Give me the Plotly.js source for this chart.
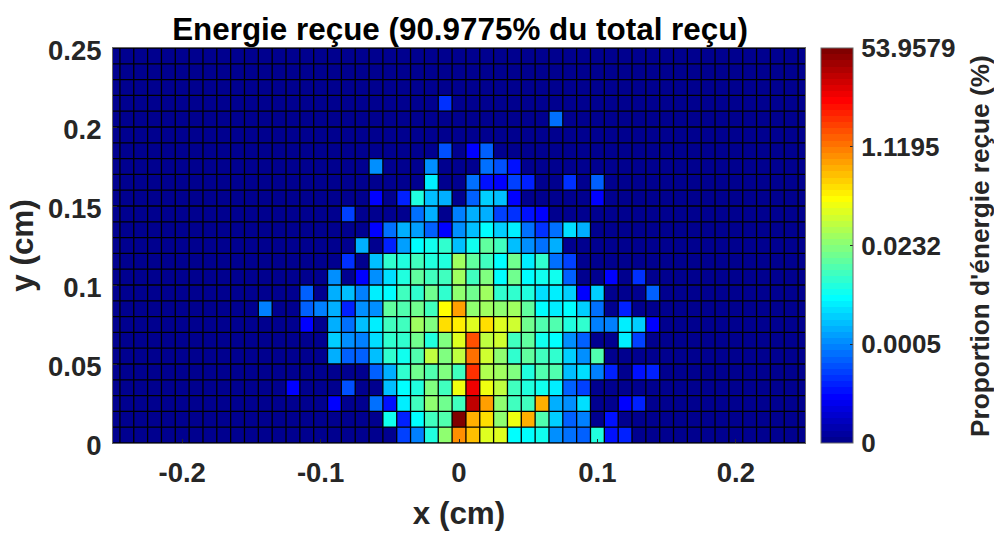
<!DOCTYPE html>
<html>
<head>
<meta charset="utf-8">
<script src="https://cdn.plot.ly/plotly-3.0.1.min.js"></script>
<style>html,body{margin:0;padding:0;background:#fff;overflow:hidden}#chart{width:994px;height:534px}</style>
</head>
<body>
<div id="chart"></div>
<script>
// Colour levels (0..63 of the 64-step jet map, log energy scale).
// Each row runs over x = -0.14 .. 0.14 cm; row index is y bin (0 = 0..0.01 cm).
var rows = [
 [0,0,0,0,0,0,0,0,0,0,11,15,25,32,46,43,37,37,23,23,24,16,14,13,25,8,9,0,0],
 [0,0,0,0,0,0,0,0,0,24,9,23,27,28,63,44,41,32,38,44,28,20,13,15,0,8,0,0,0],
 [0,0,0,0,0,7,0,0,14,8,22,27,32,30,27,59,45,32,27,27,44,18,16,21,0,0,7,9,0],
 [0,0,7,0,0,0,12,0,0,19,23,25,31,27,38,56,38,35,27,25,24,22,13,11,0,0,0,0,0],
 [0,0,0,0,0,0,0,0,13,18,26,30,28,31,27,52,34,33,31,25,28,28,19,21,15,9,0,8,9],
 [0,0,0,0,0,18,13,13,19,26,24,28,35,31,35,48,36,32,26,29,27,26,20,16,28,0,0,0,0],
 [0,0,0,0,0,20,16,15,21,26,26,30,25,31,37,50,35,36,27,29,24,23,16,13,0,0,22,11,0],
 [0,0,0,7,0,18,14,19,22,27,27,33,31,41,40,37,41,37,36,30,28,28,25,26,15,15,22,20,7],
 [15,0,0,13,15,18,9,16,16,29,28,30,27,39,45,32,33,32,33,29,23,22,23,20,14,0,9,0,0],
 [0,0,0,13,0,18,19,15,22,23,27,26,30,26,32,30,33,26,26,25,21,22,20,7,20,0,0,0,13],
 [0,0,0,0,0,16,0,7,16,21,25,29,27,27,33,27,31,23,30,23,24,24,13,0,0,7,0,10,0],
 [0,0,0,0,0,0,10,0,19,26,25,27,25,25,33,29,27,23,30,22,26,14,11,0,0,0,0,0,0],
 [0,0,0,0,0,0,0,18,0,9,17,23,24,26,19,24,29,27,19,16,14,18,0,0,0,0,0,0,0],
 [0,0,0,0,0,0,0,0,7,14,18,17,13,7,16,19,23,20,22,14,10,14,21,18,0,0,0,0,0],
 [0,0,0,0,0,0,11,0,0,0,0,14,18,0,15,18,18,11,10,8,7,0,0,0,0,0,0,0,0],
 [0,0,0,0,0,0,0,0,7,0,9,25,19,18,0,13,20,19,7,0,0,0,0,0,7,0,0,0,0],
 [0,0,0,0,0,0,0,0,0,0,0,0,22,0,0,14,8,7,11,9,0,0,10,0,13,0,0,0,0],
 [0,0,0,0,0,0,0,0,16,0,0,0,16,0,0,0,14,12,8,0,0,0,0,0,0,0,0,0,0],
 [0,0,0,0,0,0,0,0,0,0,0,0,0,12,0,7,13,0,0,0,0,0,0,0,0,0,0,0,0],
 [0,0,0,0,0,0,0,0,0,0,0,0,0,0,0,0,0,0,0,0,0,0,0,0,0,0,0,0,0],
 [0,0,0,0,0,0,0,0,0,0,0,0,0,0,0,0,0,0,0,0,0,14,0,0,0,0,0,0,0],
 [0,0,0,0,0,0,0,0,0,0,0,0,0,10,0,0,0,0,0,0,0,0,0,0,0,0,0,0,0],
 [0,0,0,0,0,0,0,0,0,0,0,0,0,0,0,0,0,0,0,0,0,0,0,0,0,0,0,0,0],
 [0,0,0,0,0,0,0,0,0,0,0,0,0,0,0,0,0,0,0,0,0,0,0,0,0,0,0,0,0],
 [0,0,0,0,0,0,0,0,0,0,0,0,0,0,0,0,0,0,0,0,0,0,0,0,0,0,0,0,0]
];
var xTickVals = [-0.2,-0.1,0,0.1,0.2];
var xTickText = ['-0.2','-0.1','0','0.1','0.2'];
var yTickVals = [0,0.05,0.1,0.15,0.2,0.25];
var yTickText = ['0','0.05','0.1','0.15','0.2','0.25'];
var cbTickVals = [0,16,32,48,64];
var cbTickText = ['\u200a0','\u200a0.0005','\u200a0.0232','\u200a1.1195','\u200a53.9579'];

var sidePad = [0,0,0,0,0,0,0,0,0,0,0];
var z = rows.map(function(r){
  return sidePad.concat(r, sidePad).map(function(v){ return v + 0.5; });
});

// cell borders
var gridX = [], gridY = [], i;
for (i = -25; i < 25; i++) {
  var ex = (i + 0.5) / 100;
  gridX.push(ex, ex, null); gridY.push(0, 0.25, null);
}
for (i = 0; i <= 25; i++) {
  var ey = i / 100;
  gridX.push(-0.25, 0.25, null); gridY.push(ey, ey, null);
}

// MATLAB jet, 64 discrete steps
function jet(i){
  var t = (i + 1) / 64 * 4;
  function c(v){ return Math.round(255 * Math.max(0, Math.min(1, v))); }
  return 'rgb(' + c(Math.min(t - 1.5, 4.5 - t)) + ',' + c(Math.min(t - 0.5, 3.5 - t)) + ',' + c(Math.min(t + 0.5, 2.5 - t)) + ')';
}
var colorscale = [];
for (i = 0; i < 64; i++) {
  colorscale.push([i / 64, jet(i)]);
  colorscale.push([(i + 1) / 64, jet(i)]);
}

var FONT = '"Liberation Sans", Arial, sans-serif';
var DARK = '#262626';

Plotly.newPlot('chart', [{
  type: 'heatmap',
  z: z,
  x0: -0.25, dx: 0.01,
  y0: 0.005, dy: 0.01,
  zmin: 0, zmax: 64,
  colorscale: colorscale,
  hoverinfo: 'skip',
  colorbar: {
    x: 1.0231, xanchor: 'left', xpad: 0,
    y: 0.5, yanchor: 'middle', ypad: 0,
    len: 1, lenmode: 'fraction',
    thickness: 32, thicknessmode: 'pixels',
    tickmode: 'array', tickvals: cbTickVals, ticktext: cbTickText,
    ticks: 'inside', ticklen: 3, tickcolor: DARK, tickwidth: 1,
    tickfont: {family: FONT, size: 26, color: DARK, weight: 'bold'},
    outlinecolor: '#666', outlinewidth: 1
  }
}, {
  type: 'scatter', mode: 'lines', x: gridX, y: gridY,
  line: {color: '#000', width: 1.3},
  hoverinfo: 'skip', showlegend: false
}], {
  width: 994, height: 534,
  showlegend: false,
  margin: {l: 113, r: 189, t: 48, b: 91, pad: 0},
  paper_bgcolor: '#fff',
  plot_bgcolor: '#000',
  title: {text: 'Energie reçue (90.9775% du total reçu)',
          font: {family: FONT, size: 31.4, color: '#000', weight: 'bold'},
          x: 460/994, xanchor: 'center', y: 0.945, yanchor: 'middle'},
  xaxis: {range: [-0.25, 0.25], tickmode: 'array', tickvals: xTickVals, ticktext: xTickText,
          ticks: 'inside', ticklen: 4, tickcolor: DARK, ticklabelstandoff: 5,
          tickfont: {family: FONT, size: 27.5, color: DARK, weight: 'bold'},
          showgrid: false, zeroline: false, showline: true, linecolor: '#666', linewidth: 1, mirror: true,
          title: {text: 'x (cm)', standoff: 15, font: {family: FONT, size: 31.4, color: DARK, weight: 'bold'}}},
  yaxis: {range: [0, 0.25], tickmode: 'array', tickvals: yTickVals, ticktext: yTickText,
          ticks: 'inside', ticklen: 4, tickcolor: DARK, ticklabelstandoff: 5, ticklabelshift: 2,
          tickfont: {family: FONT, size: 27.5, color: DARK, weight: 'bold'},
          showgrid: false, zeroline: false, showline: true, linecolor: '#666', linewidth: 1, mirror: true,
          title: {text: 'y (cm)', standoff: 4, font: {family: FONT, size: 31.4, color: DARK, weight: 'bold'}}},
  annotations: [{
    text: "Proportion d'énergie reçue (%)", textangle: -90, showarrow: false,
    xref: 'paper', yref: 'paper', x: (980 - 113) / 692, y: (443 - 246) / 395,
    xanchor: 'center', yanchor: 'middle',
    font: {family: FONT, size: 26.2, color: DARK, weight: 'bold'}
  }]
}, {displayModeBar: false, staticPlot: true});
</script>
</body>
</html>
